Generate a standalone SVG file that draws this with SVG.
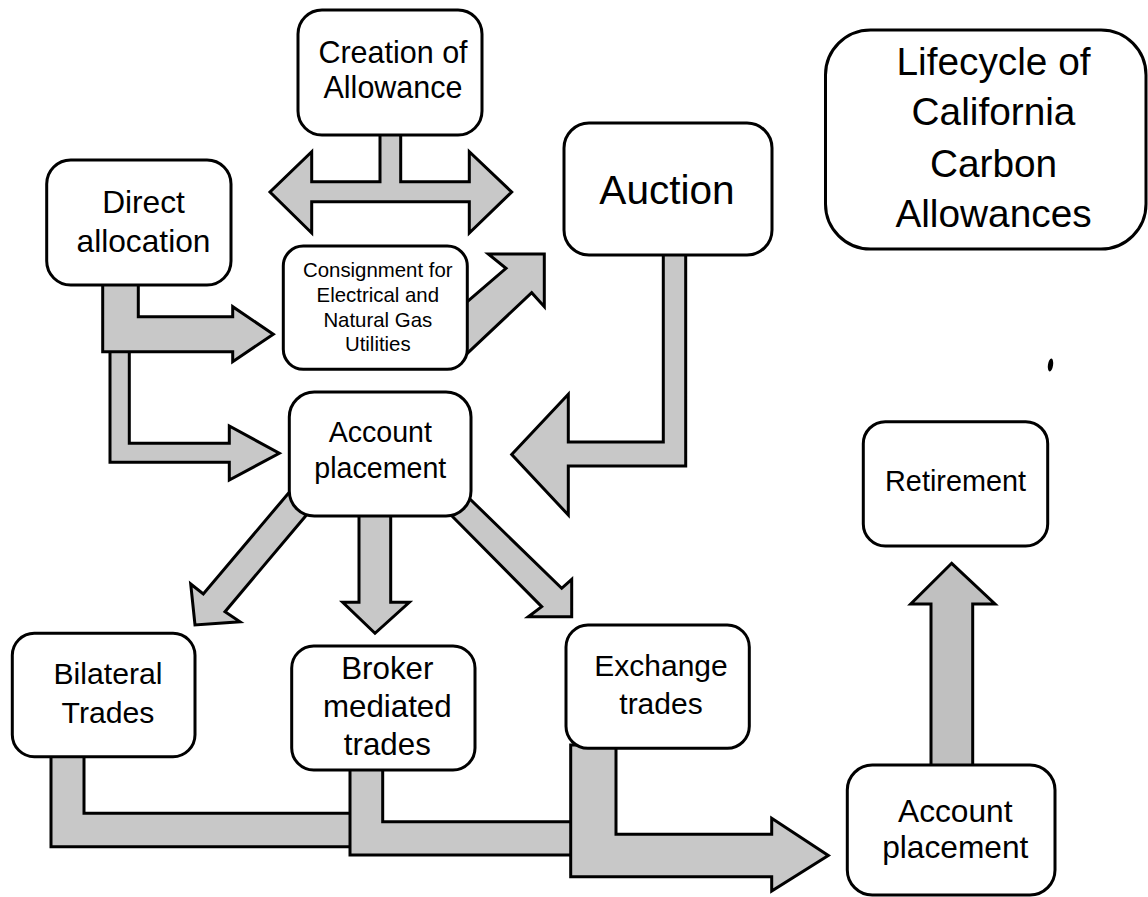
<svg xmlns="http://www.w3.org/2000/svg" width="1148" height="897" viewBox="0 0 1148 897">
<style>
  .box { fill: #ffffff; stroke: #000000; stroke-width: 3; }
  .arr { fill: #c8c8c8; stroke: #000000; stroke-width: 3; stroke-linejoin: miter; }
  .arr2 { fill: #c0c0c0; stroke: #000000; stroke-width: 3; stroke-linejoin: miter; }
  text { font-family: "Liberation Sans", Arial, sans-serif; fill: #000000; text-anchor: middle; }
</style>
<rect x="0" y="0" width="1148" height="897" fill="#ffffff"/>

<g id="connectors">
  <!-- Creation double arrow -->
  <path class="arr" d="M380,130 V181.7 H311.7 V151.7 L270,192 L311.7,233 V201.7 H469.3 V233 L511.7,192 L469.3,151.7 V181.7 H400.7 V130 Z"/>
  <!-- Consignment to Auction -->
  <path class="arr" d="M461.2,306.9 L506,268.3 L488.3,254 L544.3,254 L544.3,306.7 L531.7,292.7 L467.3,353.3 L461.5,358.8 Z"/>
  <!-- Auction to Account placement -->
  <path class="arr" d="M663.3,250 V442 H568.3 V394.3 L511.7,454.5 L568.3,515 V466 H685.7 V250 Z"/>
  <!-- Direct allocation to Account placement -->
  <path class="arr" d="M110,345 V462.3 H229.3 V480 L279.3,453.3 L229.3,426 V443.3 H129.3 V345 Z"/>
  <!-- Direct allocation to Consignment -->
  <path class="arr" d="M102.7,280 V351.7 H232.7 V361.7 L273.3,334.2 L232.7,306.7 V316.7 H138.3 V280 Z"/>
  <!-- Account placement to Bilateral -->
  <path class="arr" d="M294.8,485.7 L203.3,594 L190.7,584 L195,625 L240,621.7 L225,611.7 L305,516.7 L311.5,509 Z"/>
  <!-- Account placement to Broker -->
  <path class="arr" d="M359,510 V602.3 H342.7 L375,633.3 L409.3,602.3 H390.7 V510 Z"/>
  <!-- Account placement to Exchange -->
  <path class="arr" d="M464.5,493.7 L561.7,588.3 L571.7,579.3 L571.7,616.7 L528.3,616.7 L541.7,606.7 L452.7,516.7 L445.5,509.7 Z"/>
  <!-- Bilateral to Account placement 2 -->
  <path class="arr" d="M51,750 V846.7 H360 V813.3 H84 V750 Z"/>
  <!-- Broker to Account placement 2 -->
  <path class="arr" d="M350,765 V855 H580 V821.7 H382.7 V765 Z"/>
  <!-- Exchange to Account placement 2 -->
  <path class="arr" d="M570.7,745 V876.7 H771.7 V891 L828.3,855.5 L771.7,818.3 V834.3 H616 V745 Z"/>
  <!-- Account placement 2 to Retirement -->
  <path class="arr2" d="M931,770 V604 H910.7 L951.7,563.3 L995,604 H972.7 V770 Z"/>
</g>

<g id="creation">
  <rect class="box" x="298" y="10" width="184" height="125" rx="24"/>
  <text font-size="30.5"><tspan x="393" y="63">Creation of</tspan><tspan x="393" y="98">Allowance</tspan></text>
</g>

<g id="direct-allocation">
  <rect class="box" x="46.7" y="160" width="184.3" height="125" rx="24"/>
  <text font-size="31.7"><tspan x="143.5" y="213.3">Direct</tspan><tspan x="143.5" y="251.7">allocation</tspan></text>
</g>

<g id="consignment">
  <rect class="box" x="283.3" y="246" width="184" height="123.3" rx="20"/>
  <text font-size="20.4"><tspan x="377.8" y="277.3">Consignment for</tspan><tspan x="377.8" y="301.7">Electrical and</tspan><tspan x="377.8" y="326.7">Natural Gas</tspan><tspan x="377.8" y="350.7">Utilities</tspan></text>
</g>

<g id="auction">
  <rect class="box" x="564" y="123" width="208" height="132" rx="25"/>
  <text font-size="40.6" x="667" y="204">Auction</text>
</g>

<g id="title">
  <rect class="box" x="825.5" y="30" width="320.5" height="219" rx="45"/>
  <text font-size="38.8"><tspan x="993.5" y="75">Lifecycle of</tspan><tspan x="993.5" y="125">California</tspan><tspan x="993.5" y="176.7">Carbon</tspan><tspan x="993.5" y="226.7">Allowances</tspan></text>
</g>

<g id="account-placement-1">
  <rect class="box" x="289.3" y="392" width="181.7" height="124" rx="25"/>
  <text font-size="28.6"><tspan x="380.3" y="441.7">Account</tspan><tspan x="380.3" y="477.7">placement</tspan></text>
</g>

<g id="bilateral">
  <rect class="box" x="12.3" y="633.3" width="182.7" height="123.4" rx="22"/>
  <text font-size="30.2"><tspan x="108" y="684.3">Bilateral</tspan><tspan x="108" y="722.7">Trades</tspan></text>
</g>

<g id="broker">
  <rect class="box" x="291.7" y="646" width="183.3" height="124" rx="22"/>
  <text font-size="31.3"><tspan x="387.3" y="679.3">Broker</tspan><tspan x="387.3" y="717.3">mediated</tspan><tspan x="387.3" y="755">trades</tspan></text>
</g>

<g id="exchange">
  <rect class="box" x="566" y="625" width="183.3" height="123.3" rx="22"/>
  <text font-size="30"><tspan x="661" y="676">Exchange</tspan><tspan x="661" y="714">trades</tspan></text>
</g>

<g id="retirement">
  <rect class="box" x="863.3" y="421.7" width="184.4" height="124.3" rx="22"/>
  <text font-size="28.8" x="955.5" y="490.7">Retirement</text>
</g>

<g id="account-placement-2">
  <rect class="box" x="847.3" y="765" width="207.7" height="130" rx="25"/>
  <text font-size="31.7"><tspan x="955.3" y="821.7">Account</tspan><tspan x="955.3" y="858.3">placement</tspan></text>
</g>

<ellipse cx="1050.5" cy="365" rx="2.6" ry="6.5" transform="rotate(8 1050.5 365)" fill="#000000"/>
</svg>
